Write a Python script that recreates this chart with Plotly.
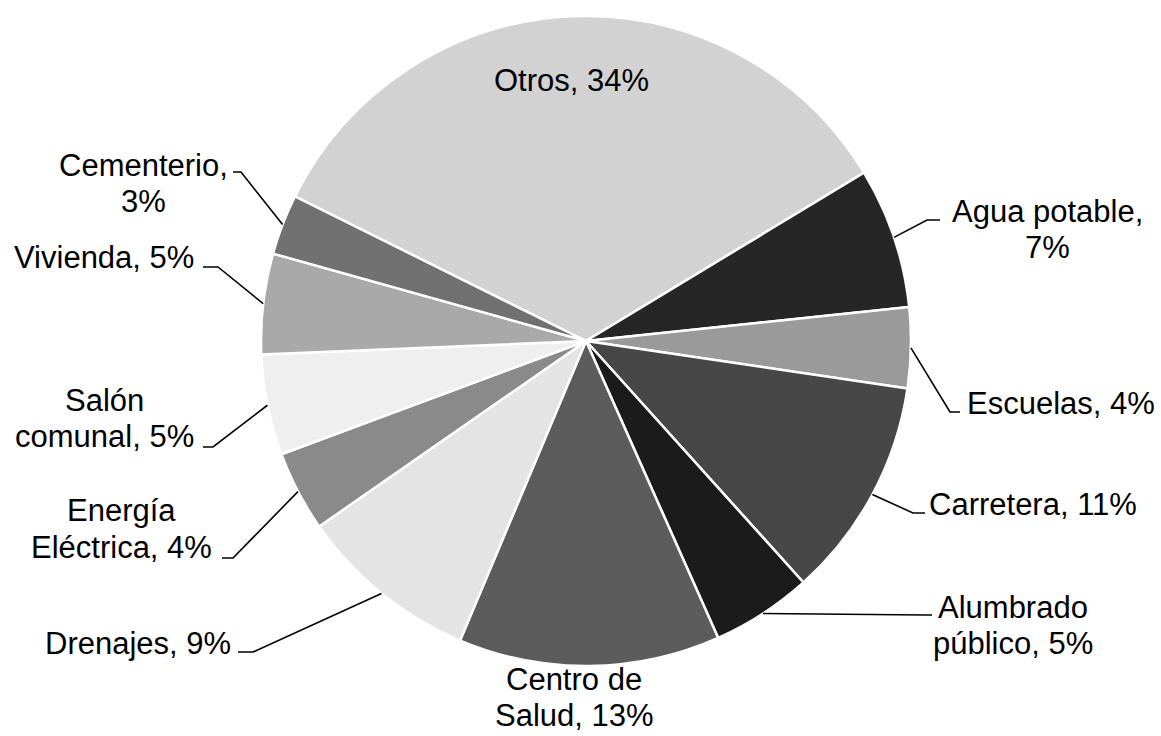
import math
import plotly.graph_objects as go

# ---- data ----
categories = ["Otros", "Agua potable", "Escuelas", "Carretera", "Alumbrado público",
              "Centro de Salud", "Drenajes", "Energía Eléctrica", "Salón comunal",
              "Vivienda", "Cementerio"]
shares = [34, 7, 4, 11, 5, 13, 9, 4, 5, 5, 3]

# display form of each label: lines of the name, and whether the % goes on a new line
label_name_lines = [["Otros"], ["Agua potable"], ["Escuelas"], ["Carretera"],
                    ["Alumbrado", "público"], ["Centro de", "Salud"], ["Drenajes"],
                    ["Energía", "Eléctrica"], ["Salón", "comunal"], ["Vivienda"],
                    ["Cementerio"]]
pct_on_new_line = [False, True, False, False, False, False, False, False, False,
                   False, True]

# ---- styling / layout ----
W, H = 1161, 736
colors = ["#d2d2d2", "#262626", "#9a9a9a", "#474747", "#1b1b1b", "#5c5c5c",
          "#e4e4e4", "#8a8a8a", "#efefef", "#a9a9a9", "#717171"]
CX, CY, R = 586, 341, 325          # pie centre / radius in px
ROTATION = -63.6                     # start angle of first slice (clockwise from 12 o'clock)
LINE_H = 36                          # label line spacing in px

# label block centres (px) and leader-line label-side points (start, elbow) in px
label_pos = [(571, 81), (1047, 229), (1061, 403), (1033, 504), (1013, 625),
             (574, 697), (138, 643), (121, 529), (104, 418), (104, 257), (143, 183)]
leader_pts = [None, [(940, 220), (927, 220)], [(960, 412), (950, 412)],
              [(925, 513), (913, 513)], [(932, 615), (925, 615)], None,
              [(238, 652), (253, 652)], [(222, 558), (233, 558)],
              [(203, 447), (213, 447)], [(203, 267), (218, 267)],
              [(233, 172), (241, 172)]]

FONT = dict(family="Arial, Liberation Sans, sans-serif", size=31, color="black")


def px2paper(x, y):
    return x / W, 1 - y / H


fig = go.Figure(go.Pie(
    labels=categories, values=shares, sort=False, direction="clockwise",
    rotation=ROTATION, textinfo="none", showlegend=False,
    marker=dict(colors=colors, line=dict(color="white", width=2.5)),
    domain=dict(x=[(CX - R) / W, (CX + R) / W], y=[1 - (CY + R) / H, 1 - (CY - R) / H]),
))

total = sum(shares)
acc = 0.0
annotations, shapes = [], []
for i, (name_lines, v) in enumerate(zip(label_name_lines, shares)):
    mid = ROTATION + (acc + v / 2) / total * 360
    acc += v
    a = math.radians(mid)
    ex, ey = CX + R * math.sin(a), CY - R * math.cos(a)

    lines = list(name_lines)
    if pct_on_new_line[i]:
        lines[-1] += ","
        lines.append(f"{v}%")
    else:
        lines[-1] += f", {v}%"
    lx, ly = label_pos[i]
    n = len(lines)
    for k, t in enumerate(lines):
        yy = ly + (k - (n - 1) / 2) * LINE_H
        px_, py_ = px2paper(lx, yy)
        annotations.append(dict(
            x=px_, y=py_, xref="paper", yref="paper", xanchor="center", yanchor="middle",
            text=t, showarrow=False, align="center", font=FONT))

    if leader_pts[i] is not None:
        pts = leader_pts[i] + [(ex, ey)]
        path = ""
        for j, (x, y) in enumerate(pts):
            qx, qy = px2paper(x, y)
            path += ("M" if j == 0 else "L") + f"{qx:.5f},{qy:.5f} "
        shapes.append(dict(type="path", path=path, xref="paper", yref="paper",
                           line=dict(color="black", width=1.6)))

fig.update_layout(
    width=W, height=H, margin=dict(l=0, r=0, t=0, b=0),
    paper_bgcolor="white", plot_bgcolor="white",
    annotations=annotations, shapes=shapes,
)
fig.write_html("out.html", config={"displayModeBar": False},
               post_script="document.body.style.margin='0';document.body.style.padding='0';")
